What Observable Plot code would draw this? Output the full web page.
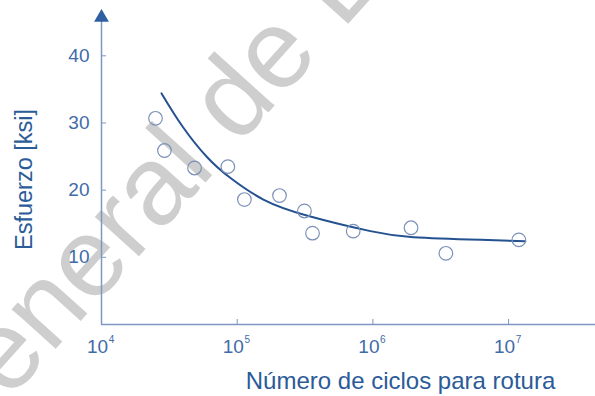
<!DOCTYPE html>
<html>
<head>
<meta charset="utf-8">
<script src="https://cdn.jsdelivr.net/npm/d3@7"></script>
<script src="https://cdn.jsdelivr.net/npm/@observablehq/plot@0.6"></script>
<style>
  html, body { margin: 0; padding: 0; background: #fff; }
  #chart svg { display: block; font-family: "Liberation Sans", Arial, sans-serif; }
</style>
</head>
<body>
<div id="chart"></div>
<script>
// Fatigue test results: cycles to failure vs. stress amplitude
const ciclos   = [25000, 29100, 48500, 85300, 113000, 205000, 313000, 359000, 716000, 1910000, 3450000, 11900000];
const esfuerzo = [30.7, 25.9, 23.3, 23.5, 18.6, 19.2, 16.9, 13.6, 13.9, 14.4, 10.6, 12.6];

// Fitted S-N curve
const curvaCiclos   = [27700, 39800, 60100, 89300, 156000, 330000, 959000, 1990000, 6210000, 13300000];
const curvaEsfuerzo = [34.4, 29.4, 24.9, 21.8, 18.6, 16.2, 13.9, 13.0, 12.6, 12.4];

const xTicks = [1e4, 1e5, 1e6, 1e7];
const yTicks = [10, 20, 30, 40];

const xLabel = "Número de ciclos para rotura";
const yLabel = "Esfuerzo [ksi]";
const marca = "General de B";

const puntos = ciclos.map((n, i) => ({n, s: esfuerzo[i]}));
const curva = curvaCiclos.map((n, i) => ({n, s: curvaEsfuerzo[i]}));

const axisColor = "#7f97c2";
const tickText = "#3f6ba8";
const labelColor = "#2b5b98";

const chart = Plot.plot({
  width: 595,
  height: 396,
  marginLeft: 101,
  marginRight: 0,
  marginTop: 15,
  marginBottom: 72,
  x: {type: "log", domain: [1e4, 4.37e7], axis: null},
  y: {domain: [0, 46], axis: null},
  style: {fontFamily: "Liberation Sans, Arial, sans-serif", background: "#fff"},
  marks: [
    // watermark
    Plot.text([marca], {
      text: d => d, frameAnchor: "top-left", dx: -151, dy: 450,
      rotate: -48, fontSize: 112, fill: "#c6c6c6", fillOpacity: 0.85,
      textAnchor: "start", lineAnchor: "bottom"
    }),
    // axis lines
    Plot.ruleY([0], {stroke: axisColor, strokeWidth: 1.5}),
    Plot.ruleX([1e4], {y1: 0, y2: 46, stroke: axisColor, strokeWidth: 1.5}),
    Plot.dot([1e4], {x: d => d, y: () => 46, symbol: "triangle", r: 5.5, fill: "#2f5fa2", stroke: "none", dy: 2}),
    Plot.dot([4.37e7], {x: d => d, y: () => 0, symbol: "triangle", r: 5.5, fill: "#2f5fa2", stroke: "none", rotate: 90, dx: 5}),
    // inward ticks
    Plot.axisX(xTicks.slice(1), {tickSize: -5, stroke: axisColor, tickFormat: () => "", anchor: "bottom", label: null}),
    Plot.axisY(yTicks, {tickSize: -5, stroke: axisColor, tickFormat: () => "", anchor: "left", label: null}),
    // y tick labels
    Plot.text(yTicks, {x: 1e4, y: d => d, text: d => String(d), textAnchor: "end", dx: -12, fontSize: 19, fill: tickText}),
    // x tick labels: base and exponent
    Plot.text(xTicks, {x: d => d, text: () => "10", frameAnchor: "bottom", dy: 22, dx: -4, fontSize: 19, fill: tickText, lineAnchor: "middle"}),
    Plot.text(xTicks, {x: d => d, text: d => String(Math.round(Math.log10(d))), frameAnchor: "bottom", dy: 15, dx: 10, fontSize: 10, fill: tickText, lineAnchor: "middle"}),
    // axis titles
    Plot.text([xLabel], {text: d => d, frameAnchor: "bottom", dx: 52, dy: 57, fontSize: 24, fill: labelColor, lineAnchor: "middle"}),
    Plot.text([yLabel], {text: d => d, frameAnchor: "left", dx: -77, dy: 80, rotate: -90, fontSize: 23.5, fill: labelColor, lineAnchor: "middle"}),
    // fitted curve and measurements
    Plot.line(curva, {x: "n", y: "s", curve: "natural", stroke: "#24518f", strokeWidth: 2}),
    Plot.dot(puntos, {x: "n", y: "s", r: 6.8, stroke: "#7b90b8", strokeWidth: 1.2, fill: "none"})
  ]
});

document.getElementById("chart").append(chart);
</script>
</body>
</html>
